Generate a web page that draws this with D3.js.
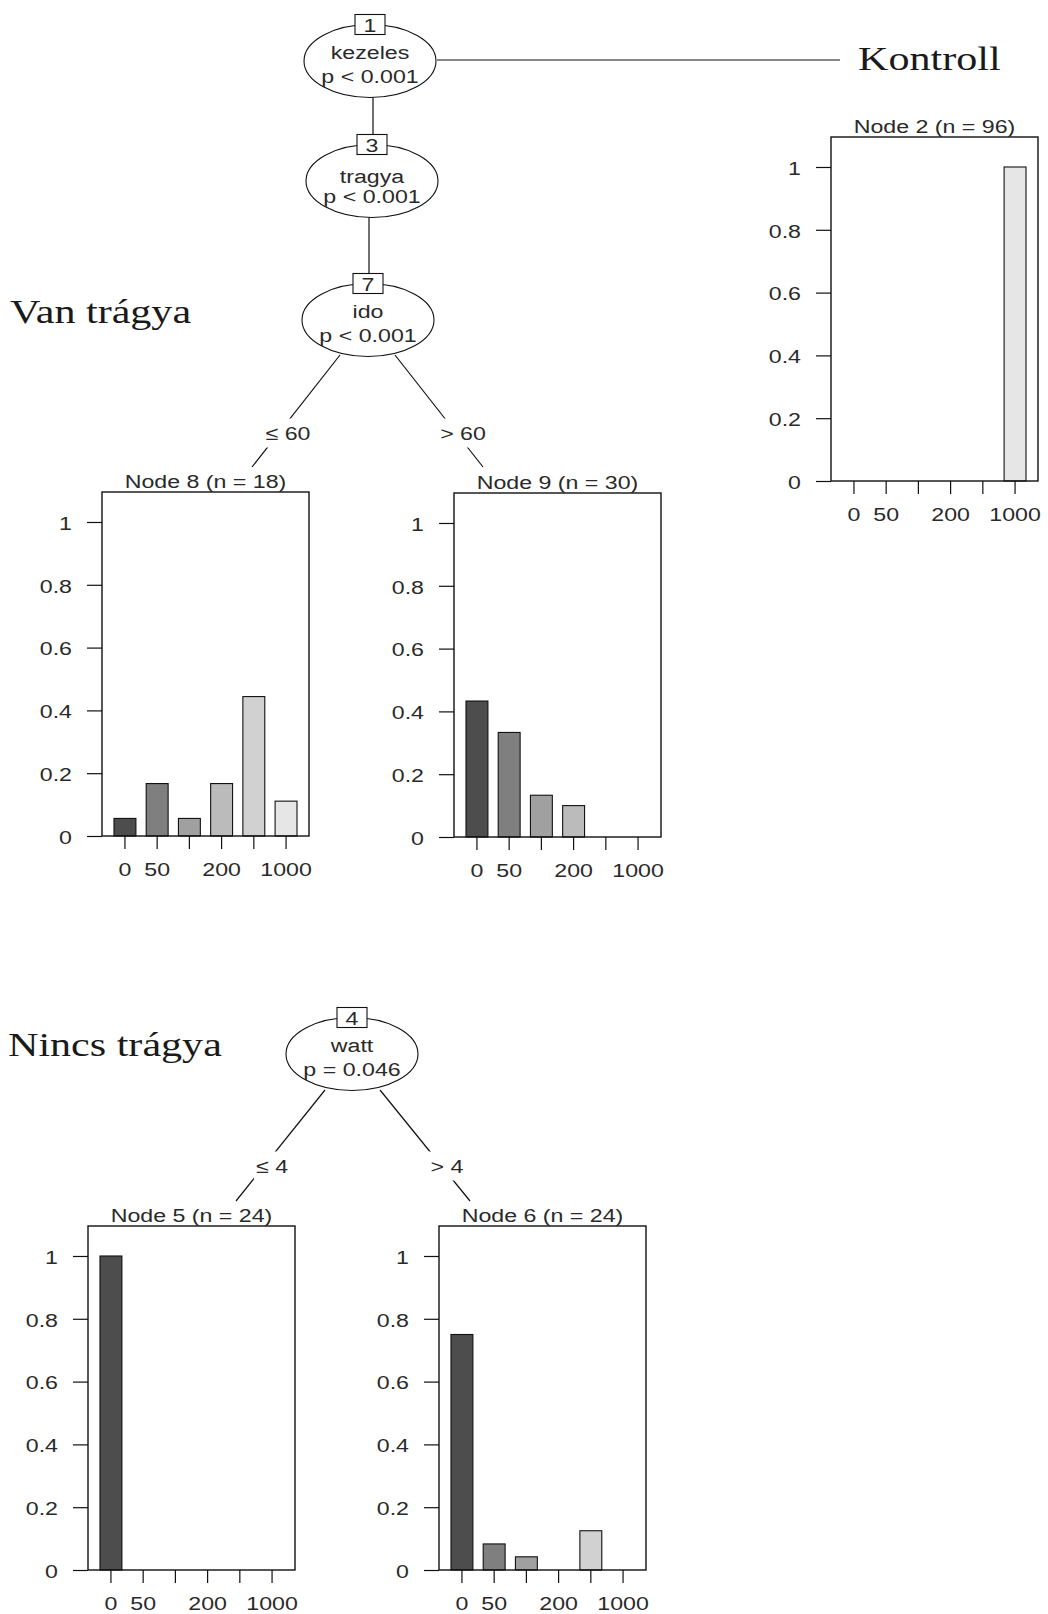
<!DOCTYPE html>
<html>
<head>
<meta charset="utf-8">
<script src="https://cdn.jsdelivr.net/npm/d3@7.9.0/dist/d3.min.js"></script>
<style>
  body { margin: 0; background: #fff; }
  svg text { font-family: 'Liberation Sans', Arial, sans-serif; fill: #2a2a2a; }
  svg text.serif { font-family: 'Liberation Serif', 'Times New Roman', serif; fill: #1a1a1a; }
</style>
</head>
<body>
<svg id="tree"></svg>
<script>
// response classes (only some tick labels fit, as in R)
const classes = ['0', '50', '100', '200', '500', '1000'];
const shownLabels = ['0', '50', '200', '1000'];
const yTicks = [0, 0.2, 0.4, 0.6, 0.8, 1];
const classColors = ['#4d4d4d', '#7f7f7f', '#a0a0a0', '#bbbbbb', '#d1d1d1', '#e6e6e6'];

// class proportions per terminal node
const node2 = [0, 0, 0, 0, 0, 1];
const node8 = [0.056, 0.167, 0.056, 0.167, 0.444, 0.111];
const node9 = [0.433, 0.333, 0.133, 0.1, 0, 0];
const node5 = [1, 0, 0, 0, 0, 0];
const node6 = [0.75, 0.083, 0.042, 0, 0.125, 0];

const width = 1048;
const height = 1614;
const SX = 1.22;           // the picture is stretched horizontally
const PW = 207, PH = 344;  // terminal panel box

const terminals = [
  { id: 2, n: 96, probs: node2, left: 831, top: 137 },
  { id: 8, n: 18, probs: node8, left: 102, top: 492 },
  { id: 9, n: 30, probs: node9, left: 454, top: 493 },
  { id: 5, n: 24, probs: node5, left: 88, top: 1226 },
  { id: 6, n: 24, probs: node6, left: 439, top: 1226 }
];

const inner = [
  { id: 1, varName: 'kezeles', p: 'p < 0.001', cx: 370, cy: 61 },
  { id: 3, varName: 'tragya', p: 'p < 0.001', cx: 372, cy: 181, dy: 4 },
  { id: 7, varName: 'ido', p: 'p < 0.001', cx: 368, cy: 320 },
  { id: 4, varName: 'watt', p: 'p = 0.046', cx: 352, cy: 1054 }
];

const edges = [
  { from: [373, 97], to: [373, 137] },
  { from: [369, 217], to: [369, 275] },
  { from: [437, 60], to: [840, 60] },
  { from: [340, 355], to: [252, 467], label: '\u2264 60', lx: 288, ly: 433 },
  { from: [395, 355], to: [483, 467], label: '> 60', lx: 463, ly: 433 },
  { from: [325, 1090], to: [236, 1201], label: '\u2264 4', lx: 272, ly: 1166 },
  { from: [380, 1090], to: [470, 1201], label: '> 4', lx: 447, ly: 1166 }
];

const groupLabels = [
  { text: 'Kontroll', x: 858, y: 70 },
  { text: 'Van trágya', x: 10, y: 323 },
  { text: 'Nincs trágya', x: 8, y: 1056 }
];

const svg = d3.select('#tree')
  .attr('width', width)
  .attr('height', height);

svg.append('rect').attr('width', width).attr('height', height).attr('fill', '#fff');

function stretchText(sel, x, y, str, anchor = 'middle') {
  return sel.append('text')
    .attr('transform', `translate(${x},${y}) scale(${SX},1)`)
    .attr('text-anchor', anchor)
    .attr('font-size', 19)
    .text(str);
}

// edges
edges.forEach(e => {
  svg.append('line')
    .attr('x1', e.from[0]).attr('y1', e.from[1])
    .attr('x2', e.to[0]).attr('y2', e.to[1])
    .attr('stroke', '#111')
    .attr('stroke-width', 1.2);
  if (e.label) {
    const g = svg.append('g').attr('transform', `translate(${e.lx},${e.ly})`);
    const bg = g.append('rect').attr('fill', '#fff');
    const t = stretchText(g, 0, 0, e.label).attr('dy', '0.35em');
    const w = t.node().getBBox().width * SX + 4;
    bg.attr('x', -w / 2).attr('y', -14.5).attr('width', w).attr('height', 29);
  }
});

// inner nodes
inner.forEach(d => {
  svg.append('ellipse')
    .attr('cx', d.cx).attr('cy', d.cy)
    .attr('rx', 66).attr('ry', 36.5)
    .attr('fill', '#fff')
    .attr('stroke', '#111')
    .attr('stroke-width', 1.1);
  const top = d.cy - 36.5;
  svg.append('rect')
    .attr('x', d.cx - 15).attr('y', top - 10)
    .attr('width', 30).attr('height', 20)
    .attr('fill', '#fff')
    .attr('stroke', '#111')
    .attr('stroke-width', 1.1);
  stretchText(svg, d.cx, top + 7, d.id);
  stretchText(svg, d.cx, d.cy - 2 + (d.dy || 0), d.varName);
  stretchText(svg, d.cx, d.cy + 22, d.p);
});

// group labels
groupLabels.forEach(d => {
  stretchText(svg, d.x, d.y, d.text, 'start')
    .attr('class', 'serif')
    .attr('font-size', 34.5);
});

// terminal bar plots
function drawPanel(t) {
  const g = svg.append('g').attr('transform', `translate(${t.left},${t.top})`);

  const x = d3.scaleBand()
    .domain(classes)
    .range([0, PW])
    .paddingInner(0.32)
    .paddingOuter(0.372);

  const y = d3.scaleLinear()
    .domain([0, 1.0955])
    .range([PH, 0]);

  g.selectAll('rect.bar')
    .data(t.probs)
    .join('rect')
      .attr('class', 'bar')
      .attr('x', (d, i) => x(classes[i]))
      .attr('y', d => y(d))
      .attr('width', x.bandwidth())
      .attr('height', d => PH - y(d))
      .attr('fill', (d, i) => classColors[i])
      .attr('stroke', '#111')
      .attr('stroke-width', 1.1);

  g.append('rect')
    .attr('width', PW)
    .attr('height', PH)
    .attr('fill', 'none')
    .attr('stroke', '#111')
    .attr('stroke-width', 1.4);

  const yAxis = g.append('g')
    .call(d3.axisLeft(y).tickValues(yTicks).tickSize(15).tickFormat(d3.format('~g')))
    .attr('font-size', 19)
    .attr('color', '#111');
  yAxis.select('.domain').remove();
  yAxis.selectAll('line').attr('stroke-width', 1.2);
  yAxis.selectAll('text')
    .attr('x', null)
    .attr('dy', '0.38em')
    .attr('transform', `translate(-30,0) scale(${SX},1)`);

  const xAxis = g.append('g')
    .attr('transform', `translate(0,${PH})`)
    .call(d3.axisBottom(x).tickSize(13).tickPadding(14)
      .tickFormat(d => shownLabels.includes(d) ? d : ''))
    .attr('font-size', 19)
    .attr('color', '#111');
  xAxis.select('.domain').remove();
  xAxis.selectAll('line').attr('stroke-width', 1.2);
  xAxis.selectAll('text').attr('transform', `scale(${SX},1)`);

  stretchText(g, PW / 2, -4, `Node ${t.id} (n = ${t.n})`);
}

terminals.forEach(drawPanel);
</script>
</body>
</html>
